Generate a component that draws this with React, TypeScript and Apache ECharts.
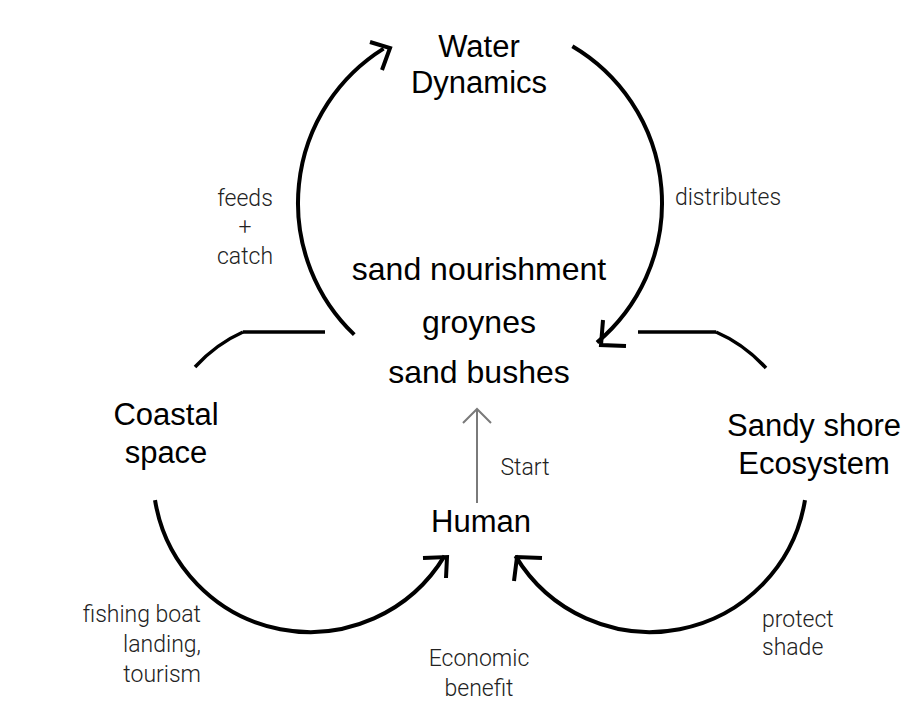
import React, { useEffect, useRef } from "react";
import * as echarts from "echarts";

// ---- content ----
const nodeLabels: string[][] = [
  ["Water", "Dynamics"],
  ["Coastal", "space"],
  ["Sandy shore", "Ecosystem"],
  ["Human"],
];
const measureLabels: string[] = ["sand nourishment", "groynes", "sand bushes"];
const flowLabels: string[][] = [
  ["feeds", "+", "catch"],
  ["distributes"],
  ["fishing boat", "landing,", "tourism"],
  ["Economic", "benefit"],
  ["protect", "shade"],
  ["Start"],
];

// ---- layout (positions only) ----
const nodePos = [
  { x: 479, y: 46, step: 36, align: "center" },
  { x: 166, y: 414, step: 38, align: "center" },
  { x: 814, y: 425, step: 38, align: "center" },
  { x: 481, y: 521, step: 36, align: "center" },
];
const measurePos = [
  { x: 479, y: 269 },
  { x: 479, y: 322 },
  { x: 479, y: 372 },
];
const flowPos = [
  { x: 245, y: 198, step: 29, align: "center" },
  { x: 728, y: 197, step: 29, align: "center" },
  { x: 201, y: 614, step: 30, align: "right" },
  { x: 479, y: 658, step: 30, align: "center" },
  { x: 762, y: 619, step: 28, align: "left" },
  { x: 525, y: 467, step: 29, align: "center" },
];

const arcs = [
  { cx: 480, cy: 203, r: 182, a0: 133.7, a1: 238, cw: true },
  { cx: 480, cy: 203, r: 182, a0: -59.5, a1: 50, cw: true },
  { cx: 310, cy: 475, r: 157, a0: 170.8, a1: 31, cw: false },
  { cx: 650, cy: 475, r: 157, a0: 9.2, a1: 149, cw: true },
];
const arrowHeads: number[][][] = [
  [[370, 42], [390, 48], [382, 70]],
  [[603, 320], [601, 345], [626, 346]],
  [[423, 558], [447, 557], [446, 578]],
  [[542, 558], [517, 557], [514, 581]],
];

const MAIN_FONT = "'Liberation Sans', Arial, sans-serif";
const THIN_FONT = "Roboto, 'Liberation Sans', sans-serif";

export default function App() {
  const ref = useRef<HTMLDivElement>(null);
  useEffect(() => {
    if (!ref.current) return;
    const chart = echarts.init(ref.current, undefined, { renderer: "svg" });
    const els: any[] = [];
    const rad = (d: number) => (d * Math.PI) / 180;

    arcs.forEach((a) => {
      els.push({
        type: "arc",
        shape: { cx: a.cx, cy: a.cy, r: a.r, startAngle: rad(a.a0), endAngle: rad(a.a1), clockwise: a.cw },
        style: { stroke: "#000", lineWidth: 4, fill: null },
      });
    });
    arrowHeads.forEach((p) => {
      els.push({
        type: "polyline",
        shape: { points: p },
        style: { stroke: "#000", lineWidth: 4, fill: null, lineJoin: "miter" },
      });
    });
    // small connectors
    els.push({
      type: "bezierCurve",
      shape: { x1: 195, y1: 367, cpx1: 216, cpy1: 344, x2: 243, y2: 332 },
      style: { stroke: "#000", lineWidth: 3.5, fill: null },
    });
    els.push({
      type: "line",
      shape: { x1: 243, y1: 332, x2: 325, y2: 332 },
      style: { stroke: "#000", lineWidth: 3.5 },
    });
    els.push({
      type: "line",
      shape: { x1: 638, y1: 332, x2: 716, y2: 332 },
      style: { stroke: "#000", lineWidth: 3.5 },
    });
    els.push({
      type: "bezierCurve",
      shape: { x1: 716, y1: 332, cpx1: 744, cpy1: 344, x2: 766, y2: 368 },
      style: { stroke: "#000", lineWidth: 3.5, fill: null },
    });
    // start arrow
    els.push({
      type: "line",
      shape: { x1: 477, y1: 409, x2: 477, y2: 503 },
      style: { stroke: "#7a7a7a", lineWidth: 2 },
    });
    els.push({
      type: "polyline",
      shape: { points: [[463, 423], [477, 409], [491, 423]] },
      style: { stroke: "#7a7a7a", lineWidth: 2, fill: null },
    });

    const addText = (t: string, x: number, y: number, align: string, size: number, family: string, weight: any, color: string) => {
      els.push({
        type: "text",
        x,
        y,
        style: {
          text: t,
          fill: color,
          fontSize: size,
          fontFamily: family,
          fontWeight: weight,
          textAlign: align,
          textVerticalAlign: "middle",
        },
      });
    };

    nodeLabels.forEach((lines, i) => {
      const p = nodePos[i];
      lines.forEach((ln, j) => addText(ln, p.x, p.y + j * p.step, p.align, 31, MAIN_FONT, "normal", "#000"));
    });
    measureLabels.forEach((ln, i) => {
      const p = measurePos[i];
      addText(ln, p.x, p.y, "center", 32, MAIN_FONT, "normal", "#000");
    });
    flowLabels.forEach((lines, i) => {
      const p = flowPos[i];
      lines.forEach((ln, j) => addText(ln, p.x, p.y + j * p.step, p.align, 23, THIN_FONT, 300, "#222"));
    });

    chart.setOption({
      animation: false,
      backgroundColor: "#fff",
      graphic: { elements: els },
    });
    return () => chart.dispose();
  }, []);
  return (
    <div
      ref={ref}
      style={{ position: "fixed", left: 0, top: 0, width: 908, height: 710, background: "#fff" }}
    />
  );
}
